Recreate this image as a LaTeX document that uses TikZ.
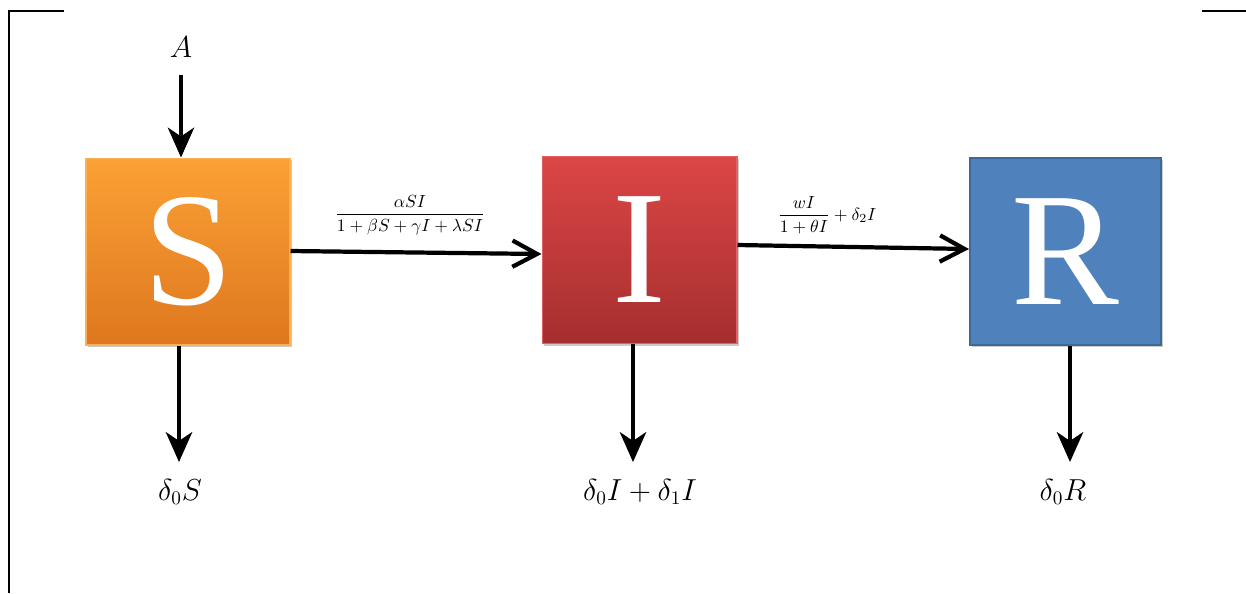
\documentclass[tikz,border=0pt]{standalone}
\usepackage{amsmath}
\usepackage{fontspec}
\newfontfamily\boxfont{Liberation Serif}
\usetikzlibrary{arrows.meta,shadows}
\definecolor{sTop}{HTML}{FBA135}
\definecolor{sBot}{HTML}{DE771E}
\definecolor{iTop}{HTML}{DC4646}
\definecolor{iBot}{HTML}{A52E2E}
\definecolor{rFill}{HTML}{4F81BD}
\definecolor{rEdge}{HTML}{3E679A}
\begin{document}
\begin{tikzpicture}[x=0.02cm,y=-0.02cm,
  compbox/.style={minimum width=#1, inner sep=0pt, text=white,
    font=\boxfont\fontsize{92}{92}\selectfont,
    drop shadow={shadow xshift=1.2pt, shadow yshift=-1.2pt, opacity=0.35, fill=black!60}},
  flow/.style={line width=2.4pt, -{Straight Barb[length=14pt,width=15pt,line width=2.4pt]}},
  outflow/.style={line width=2.4pt, -{Stealth[length=17pt,width=15pt,inset=5pt]}},
  lbl/.style={inner sep=1pt, font=\fontsize{16}{18}\selectfont},
  frame/.style={line width=1.4pt}]
\useasboundingbox (0,0) rectangle (1246,593);
% frame
\draw[frame] (64,11) -- (9,11) -- (9,593);
\draw[frame] (1202,11) -- (1246,11);
% boxes
\node[compbox=4.08cm, minimum height=3.74cm, top color=sTop, bottom color=sBot,
  draw=sTop!85!white, line width=0.6pt] (S) at (188,251.5) {S};
\node[compbox=3.9cm, minimum height=3.74cm, top color=iTop, bottom color=iBot,
  draw=iTop!85!white, line width=0.6pt] (I) at (639.5,250) {I};
\node[compbox=3.82cm, minimum height=3.74cm, fill=rFill, draw=rEdge, line width=1.2pt] (R) at (1065.5,251.5) {R};
% labels
\node[lbl] (A) at (181,47) {$A$};
\node[lbl] (dS) at (180,492) {$\delta_0 S$};
\node[lbl] (dI) at (640,492) {$\delta_0 I+\delta_1 I$};
\node[lbl] (dR) at (1063,492) {$\delta_0 R$};
\node[inner sep=0pt] (fSI) at (410,215) {$\dfrac{\alpha SI}{1+\beta S+\gamma I+\lambda SI}$};
\node[inner sep=0pt] (fIR) at (827,215) {$\dfrac{wI}{1+\theta I}+\delta_2 I$};
% connector end points
\coordinate (aTop) at (181,75);
\coordinate (sOut) at (179,462);
\coordinate (iOut) at (633,462);
\coordinate (rOut) at (1070,462);
% arrows
\draw[outflow] (aTop) -- (S.north -| aTop);
\draw[flow] (S.east |- 0,251) -- (I.west |- 0,254);
\draw[flow] (I.east |- 0,245) -- (R.west |- 0,249);
\draw[outflow] (S.south -| sOut) -- (sOut);
\draw[outflow] (I.south -| iOut) -- (iOut);
\draw[outflow] (R.south -| rOut) -- (rOut);
\end{tikzpicture}
\end{document}
